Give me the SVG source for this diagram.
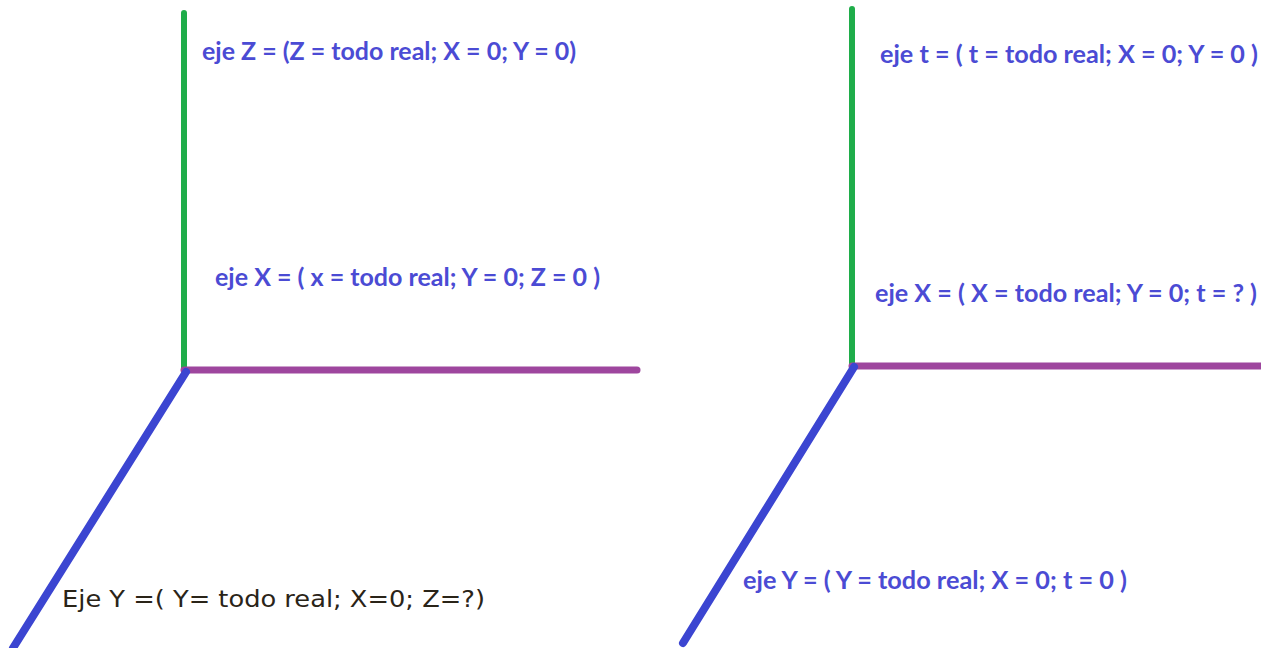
<svg xmlns="http://www.w3.org/2000/svg" width="1261" height="648" viewBox="0 0 1261 648">
<style>
.z{stroke:#1fad4a;stroke-width:6;stroke-linecap:round;fill:none}
.x{stroke:#9e469e;stroke-width:7;stroke-linecap:round;fill:none}
.y{stroke:#3b45d1;stroke-width:8;stroke-linecap:round;fill:none}
.lb{font-family:Lato,"Open Sans",sans-serif;font-weight:bold;font-size:25px;fill:#4b4bd4}
.lk{font-family:"DejaVu Sans",Verdana,sans-serif;font-size:23px;fill:#2a2418}
</style>
<rect width="1261" height="648" fill="#ffffff"/>
<g id="connectors">
<line class="z" x1="184" y1="13" x2="184" y2="370"/>
<line class="x" x1="184" y1="370" x2="637" y2="370"/>
<line class="y" x1="186" y1="372" x2="13" y2="648"/>
<line class="z" x1="852" y1="9" x2="852" y2="365"/>
<line class="x" x1="852" y1="366" x2="1265" y2="366"/>
<line class="y" x1="854" y1="367" x2="683" y2="643"/>
</g>
<g id="left-z-label"><text class="lb" x="202" y="60" textLength="374" lengthAdjust="spacingAndGlyphs">eje Z = (Z = todo real; X = 0; Y = 0)</text></g>
<g id="left-x-label"><text class="lb" x="215" y="286" textLength="385" lengthAdjust="spacingAndGlyphs">eje X = ( x = todo real; Y = 0; Z = 0 )</text></g>
<g id="left-y-label"><text class="lk" x="62" y="607" textLength="423" lengthAdjust="spacingAndGlyphs">Eje Y =( Y= todo real; X=0; Z=?)</text></g>
<g id="right-t-label"><text class="lb" x="880" y="63" textLength="378" lengthAdjust="spacingAndGlyphs">eje t = ( t = todo real; X = 0; Y = 0 )</text></g>
<g id="right-x-label"><text class="lb" x="875" y="302" textLength="382" lengthAdjust="spacingAndGlyphs">eje X = ( X = todo real; Y = 0; t = ? )</text></g>
<g id="right-y-label"><text class="lb" x="743" y="589" textLength="384" lengthAdjust="spacingAndGlyphs">eje Y = ( Y = todo real; X = 0; t = 0 )</text></g>
</svg>
